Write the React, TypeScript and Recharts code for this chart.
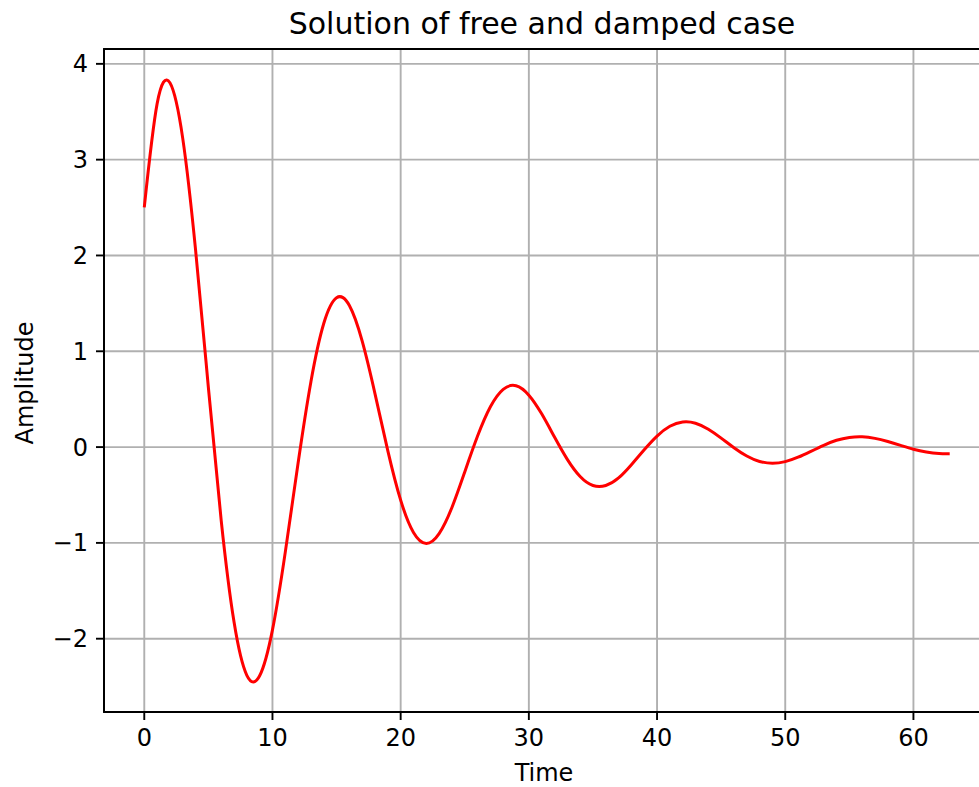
import React from 'react';
import { LineChart, Line, XAxis, YAxis, CartesianGrid, ReferenceArea } from 'recharts';

// time samples (0 .. 20*pi)
const times = [
  0, 1, 2, 3, 4, 5, 6, 7, 8, 9, 10, 11, 12, 13, 14, 15, 16, 17, 18, 19, 20,
  21, 22, 23, 24, 25, 26, 27, 28, 29, 30, 31, 32, 33, 34, 35, 36, 37, 38, 39, 40,
  41, 42, 43, 44, 45, 46, 47, 48, 49, 50, 51, 52, 53, 54, 55, 56, 57, 58, 59, 60,
  61, 62, 62.83,
];

const amplitude = [
  2.502, 3.582, 3.802, 3.222, 2.06, 0.622, -0.764, -1.824, -2.382, -2.387, -1.908,
  -1.096, -0.166, 0.683, 1.29, 1.559, 1.478, 1.106, 0.556, -0.039, -0.554,
  -0.891, -1.006, -0.903, -0.63, -0.259, 0.115, 0.421, 0.603, 0.64, 0.542,
  0.347, 0.105, -0.128, -0.307, -0.401, -0.401, -0.322, -0.184, -0.028, 0.115,
  0.217, 0.262, 0.249, 0.186, 0.094, -0.006, -0.093, -0.15, -0.169, -0.152,
  -0.106, -0.044, 0.019, 0.071, 0.101, 0.108, 0.091, 0.058, 0.018, -0.022,
  -0.051, -0.067, -0.069,
];

const xTicks = [0, 10, 20, 30, 40, 50, 60];
const yTicks = [-2, -1, 0, 1, 2, 3, 4];

const X_DOMAIN: [number, number] = [-3.1416, 65.973];
const Y_DOMAIN: [number, number] = [-2.765, 4.155];

const FONT = '"DejaVu Sans", sans-serif';

const data = times.map((t, i) => ({ t, y: amplitude[i] }));

const fmt = (v: number) => (v < 0 ? '\u2212' + Math.abs(v) : String(v));

const App: React.FC = () => {
  return (
    <div
      style={{
        position: 'fixed',
        left: 0,
        top: 0,
        width: 979,
        height: 787,
        overflow: 'hidden',
        background: '#fff',
        fontFamily: FONT,
      }}
    >
      <div
        style={{
          position: 'absolute',
          left: 104,
          width: 876,
          top: 9,
          textAlign: 'center',
          fontSize: 30,
          lineHeight: '30px',
          color: '#000',
        }}
      >
        Solution of free and damped case
      </div>
      <LineChart
        width={1000}
        height={787}
        data={data}
        margin={{ top: 49, right: 10, left: 0, bottom: 0 }}
      >
        <CartesianGrid stroke="#b0b0b0" strokeWidth={1.9} />
        <XAxis
          dataKey="t"
          type="number"
          domain={X_DOMAIN}
          ticks={xTicks}
          allowDataOverflow
          height={75}
          tickSize={8}
          tickMargin={9}
          axisLine={{ stroke: '#000', strokeWidth: 1.9 }}
          tickLine={{ stroke: '#000', strokeWidth: 1.9 }}
          tick={{ fill: '#000', fontSize: 24, fontFamily: FONT }}
          label={{ value: 'Time', position: 'insideBottom', offset: 6, dx: -3, fill: '#000', fontSize: 24, fontFamily: FONT }}
        />
        <YAxis
          type="number"
          domain={Y_DOMAIN}
          ticks={yTicks}
          allowDataOverflow
          width={104}
          tickSize={8}
          tickMargin={8}
          tickFormatter={fmt}
          axisLine={{ stroke: '#000', strokeWidth: 1.9 }}
          tickLine={{ stroke: '#000', strokeWidth: 1.9 }}
          tick={{ fill: '#000', fontSize: 24, fontFamily: FONT }}
          label={{
            content: () => (
              <text
                x={33}
                y={383}
                transform="rotate(-90 33 383)"
                textAnchor="middle"
                fill="#000"
                fontSize={24}
                fontFamily={FONT}
              >
                Amplitude
              </text>
            ),
          }}
        />
        <ReferenceArea
          x1={X_DOMAIN[0]}
          x2={X_DOMAIN[1]}
          y1={Y_DOMAIN[0]}
          y2={Y_DOMAIN[1]}
          fill="none"
          stroke="#000"
          strokeWidth={1.9}
          ifOverflow="visible"
        />
        <Line
          type="natural"
          dataKey="y"
          stroke="#ff0000"
          strokeWidth={3}
          dot={false}
          activeDot={false}
          isAnimationActive={false}
        />
      </LineChart>
    </div>
  );
};

export default App;
